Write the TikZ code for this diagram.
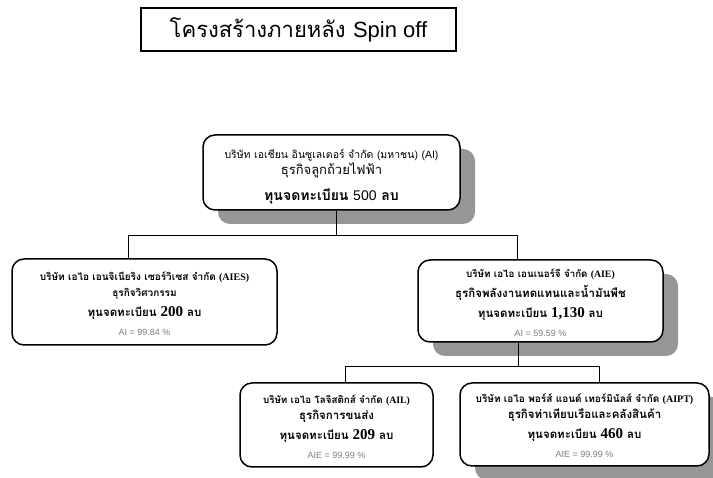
\documentclass[tikz,border=0pt]{standalone}
\usepackage{fontspec}
\newfontfamily\thai[Script=Thai]{Loma}
\newfontfamily\arial{Liberation Sans}
\newfontfamily\tnr{Liberation Serif}
\usetikzlibrary{shadows}
\definecolor{shadowgray}{RGB}{150,150,150}
\definecolor{pctgray}{RGB}{125,125,125}
\tikzset{
  company/.style={draw=black, line width=1.5pt, rounded corners=12pt, fill=white,
    align=center, inner sep=0pt, font=\thai\fontsize{9.8}{12}\selectfont},
  shadowed/.style={drop shadow={shadow xshift=15pt, shadow yshift=-14pt, opacity=1, fill=shadowgray}},
  titlebox/.style={draw=black, line width=1.5pt, inner sep=0pt, font=\thai\fontsize{22}{24}\selectfont},
  link/.style={draw=black, line width=1pt},
}
\newcommand{\topstrut}{\rule{0pt}{12pt}}
\newcommand{\pct}[1]{{\arial\fontsize{9}{10}\selectfont\color{pctgray}#1}}
\newcommand{\biz}[2][11.5]{{\bfseries\fontsize{#1}{12}\selectfont #2}}
\newcommand{\capl}[1]{{\bfseries\fontsize{11.5}{14}\selectfont ทุนจดทะเบียน {\tnr\fontsize{15}{14}\selectfont #1} ลบ}}
\begin{document}
\begin{tikzpicture}[x=1pt,y=-1pt]
\clip (0,0) rectangle (713,478);
\fill[white] (0,0) rectangle (713,478);

\node[titlebox, minimum width=315pt, minimum height=43pt] (title) at (298.5,29.5)
  {โครงสร้างภายหลัง {\arial Spin off}};

\node[company, shadowed, minimum width=257pt, minimum height=75pt] (AI) at (331.5,172.5)
  {{\fontsize{10.5}{12}\selectfont\rule{0pt}{18pt}บริษัท เอเชียน อินซูเลเตอร์ จำกัด (มหาชน) {\arial (AI)}}\\[0pt]
   {\fontsize{13}{12}\selectfont ธุรกิจลูกถ้วยไฟฟ้า}\\[10pt]
   {\bfseries\fontsize{14}{16}\selectfont ทุนจดทะเบียน {\arial\mdseries 500} ลบ}};

\node[company, minimum width=265pt, minimum height=86pt] (AIES) at (144.5,302)
  {{\bfseries\fontsize{10}{12}\selectfont\topstrut บริษัท เอไอ เอนจิเนียริง เซอร์วิเซส จำกัด {\tnr (AIES)}}\\[4pt]
   \biz[10]{ธุรกิจวิศวกรรม}\\[6pt]
   \capl{200}\\[7pt]
   \pct{AI = 99.84 \%}};

\node[company, shadowed, minimum width=245pt, minimum height=82pt] (AIE) at (540.5,301)
  {{\bfseries\topstrut บริษัท เอไอ เอนเนอร์จี จำกัด {\tnr (AIE)}}\\[4pt]
   \biz{ธุรกิจพลังงานทดแทนและน้ำมันพืช}\\[6pt]
   \capl{1,130}\\[7pt]
   \pct{AI = 59.59 \%}};

\node[company, minimum width=193pt, minimum height=84pt] (AIL) at (336.5,425)
  {{\bfseries\topstrut บริษัท เอไอ โลจิสติกส์ จำกัด {\tnr (AIL)}}\\[4pt]
   \biz{ธุรกิจการขนส่ง}\\[6pt]
   \capl{209}\\[7pt]
   \pct{AIE = 99.99 \%}};

\node[company, shadowed, minimum width=249pt, minimum height=83pt] (AIPT) at (584.5,424.5)
  {{\bfseries\fontsize{10}{12}\selectfont\topstrut บริษัท เอไอ พอร์ส์ แอนด์ เทอร์มินัลส์ จำกัด {\tnr (AIPT)}}\\[4pt]
   \biz{ธุรกิจท่าเทียบเรือและคลังสินค้า}\\[6pt]
   \capl{460}\\[7pt]
   \pct{AIE = 99.99 \%}};

\coordinate (j1) at (336,236);
\coordinate (jl1) at (128,236);
\coordinate (jr1) at (517,236);
\coordinate (j2) at (518,367);
\coordinate (jl2) at (345,367);
\coordinate (jr2) at (599,367);

\draw[link] (AI.south -| j1) -- (j1);
\draw[link] (AIES.north -| jl1) -- (jl1) -- (jr1) -- (AIE.north -| jr1);
\draw[link] (AIE.south -| j2) -- (j2);
\draw[link] (AIL.north -| jl2) -- (jl2) -- (jr2) -- (AIPT.north -| jr2);
\end{tikzpicture}
\end{document}
